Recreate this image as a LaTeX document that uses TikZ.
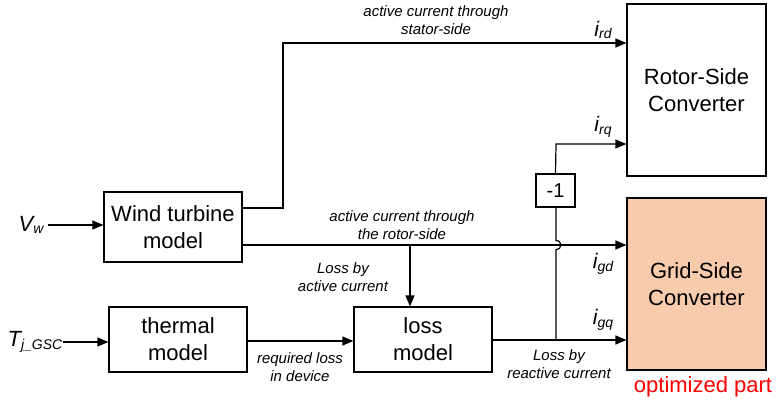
\documentclass[tikz,border=0pt]{standalone}
\usepackage{fontspec}
\setmainfont{Liberation Sans}
\usetikzlibrary{arrows.meta}
\definecolor{gscfill}{HTML}{F8CBAD}
\newcommand\mysub[3]{{\fontsize{#3}{#3}\selectfont\itshape #1}\raisebox{-0.28em}{\fontsize{14}{14}\selectfont\itshape #2}}
\begin{document}
\begin{tikzpicture}[x=1pt,y=-1pt,
  blk/.style={draw,line width=1.2pt,align=center,font=\fontsize{22}{27}\selectfont,inner sep=0pt},
  lbl/.style={align=center,font=\fontsize{15}{18}\selectfont\itshape,inner sep=0pt},
  conn/.style={line width=1.2pt},
  arr/.style={line width=1.2pt,-{Triangle[length=11pt,width=9pt]}}]
\useasboundingbox (0,0) rectangle (776,401);
% blocks
\node[blk,minimum width=138pt,minimum height=70pt] (wt) at (173,227) {Wind turbine\\model};
\node[blk,minimum width=138pt,minimum height=65pt] (th) at (178,339.5) {thermal\\model};
\node[blk,minimum width=138pt,minimum height=65pt] (lm) at (423,339.5) {loss\\model};
\node[blk,minimum width=139pt,minimum height=172pt] (rsc) at (696.5,90) {Rotor-Side\\Converter};
\node[blk,fill=gscfill,minimum width=139pt,minimum height=172pt] (gsc) at (696.5,284) {Grid-Side\\Converter};
\node[blk,minimum width=39pt,minimum height=33pt,font=\fontsize{20}{24}\selectfont] (neg) at (555.5,190.5) {-1};
% inputs
\node[inner sep=0pt] (vw) at (31,225) {\mysub{V}{w}{22}};
\node[inner sep=0pt] (tj) at (35,342) {\mysub{T}{j\_GSC}{22}};
\coordinate (vwa) at (48,225);
\coordinate (tja) at (63,342);
\draw[arr] (vwa) -- (vwa -| wt.west);
\draw[arr] (tja) -- (tja -| th.west);
% top path
\coordinate (t1) at (242,208);
\coordinate (t2) at (283,208);
\coordinate (t3) at (283,43);
\draw[arr] (t1 -| wt.east) -- (t2) -- (t3) -- (t3 -| rsc.west);
% middle path
\coordinate (m1) at (242,245);
\coordinate (mb) at (410,245);
\draw[arr] (m1 -| wt.east) -- (m1 -| gsc.west);
\draw[arr] (mb) -- (mb |- lm.north);
% thermal -> loss
\coordinate (r1) at (247,341);
\draw[arr] (r1 -| th.east) -- (r1 -| lm.west);
% loss -> gsc
\coordinate (l1) at (492,340);
\coordinate (lj) at (556,340);
\draw[arr] (l1 -| lm.east) -- (l1 -| gsc.west);
% vertical through -1 with hop
\coordinate (h1) at (556,249.5);
\coordinate (h2) at (556,240.5);
\draw[conn] (lj) -- (h1) .. controls (562.5,249.5) and (562.5,240.5) .. (h2) -- (h2 |- neg.south);
\coordinate (q1) at (556,144);
\draw[arr] (neg.north) -- (q1) -- (q1 -| rsc.west);
% labels
\node[lbl] (la) at (436,20) {active current through\\stator-side};
\node[lbl] (lb) at (402,225) {active current through\\the rotor-side};
\node[lbl] (lc) at (343,277) {Loss by\\active current};
\node[lbl] (ld) at (300,367) {required loss\\in device};
\node[lbl] (le) at (559,364) {Loss by\\reactive current};
\node[inner sep=0pt] (ird) at (603,30) {\mysub{i}{rd}{21}};
\node[inner sep=0pt] (irq) at (603,127) {\mysub{i}{rq}{21}};
\node[inner sep=0pt] (igd) at (603,264) {\mysub{i}{gd}{21}};
\node[inner sep=0pt] (igq) at (603,320) {\mysub{i}{gq}{21}};
\node[inner sep=0pt,text=red,font=\fontsize{22}{26}\selectfont] (opt) at (703,387) {optimized part};
\end{tikzpicture}
\end{document}
